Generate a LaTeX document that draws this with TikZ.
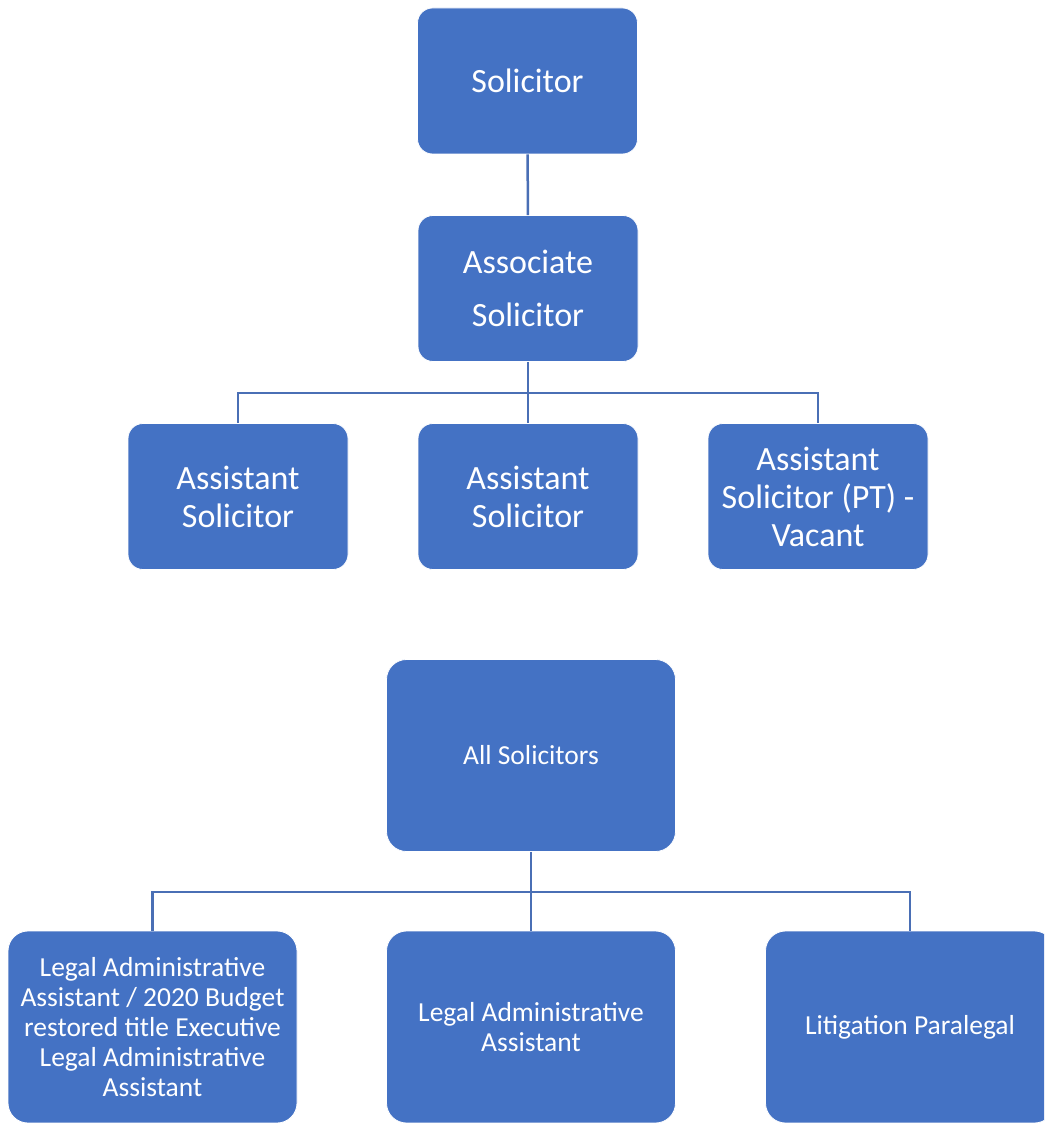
\documentclass[tikz,border=0pt]{standalone}
\usepackage{fontspec}
\setmainfont{Carlito}
\usepackage{tikz}

\definecolor{boxblue}{HTML}{4472C4}
\definecolor{lineblue}{HTML}{4A6FB5}

\begin{document}
\begin{tikzpicture}[x=1pt,y=-1pt,
		topbox/.style={shape=rectangle, rounded corners=15pt, fill=boxblue, draw=white, line width=0.8pt,
			text=white, align=center, minimum width=220pt, minimum height=146pt, inner sep=0pt,
			font=\fontsize{34}{38}\selectfont},
		lowbox/.style={topbox, rounded corners=20pt, minimum width=289pt, minimum height=192pt,
			font=\fontsize{27.5}{30}\selectfont},
		link/.style={draw=lineblue, line width=2.5pt}]
		\useasboundingbox (0,0) rectangle (1044,1123);
		\clip (0,0) rectangle (1044,1123);

		% upper chart
		\node[topbox] (sol) at (527.5,81) {Solicitor};
		\node[topbox] (assoc) at (528,288.5) {Associate\\[15pt]Solicitor};
		\node[topbox] (asst1) at (238,496.5) {Assistant\\Solicitor};
		\node[topbox] (asst2) at (528,496.5) {Assistant\\Solicitor};
		\node[topbox] (asst3) at (818,496.5) {Assistant\\Solicitor (PT) -\\Vacant};
		\coordinate (bus1) at (528,393);

		\draw [link] (sol) -- (assoc);
		\draw [link] (assoc) -- (bus1);
		\draw [link] (bus1) -| (asst1.north);
		\draw [link] (bus1) -- (asst2);
		\draw [link] (bus1) -| (asst3.north);

		% lower chart
		\node[lowbox] (all) at (531,755.5) {All Solicitors};
		\node[lowbox] (leg1) at (152.5,1027) {Legal Administrative\\Assistant / 2020 Budget\\restored title Executive\\Legal Administrative\\Assistant};
		\node[lowbox] (leg2) at (531,1027) {Legal Administrative\\Assistant};
		\node[lowbox] (lit) at (910,1027) {Litigation Paralegal};
		\coordinate (bus2) at (531,892);

		\draw [link] (all) -- (bus2);
		\draw [link] (bus2) -| (leg1.north);
		\draw [link] (bus2) -- (leg2);
		\draw [link] (bus2) -| (lit.north);
\end{tikzpicture}
\end{document}
